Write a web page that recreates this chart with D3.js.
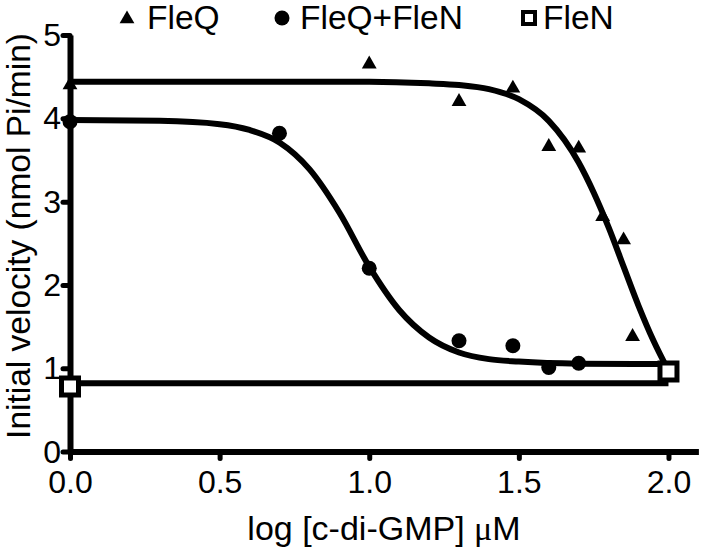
<!DOCTYPE html>
<html>
<head>
<meta charset="utf-8">
<script src="https://cdn.jsdelivr.net/npm/d3@7"></script>
<style>
  body { margin: 0; background: #fff; }
  svg { display: block; font-family: "Liberation Sans", Arial, sans-serif; }
</style>
</head>
<body>
<div id="chart"></div>
<script>
// measured points
const fleqX = [0, 1.0, 1.3, 1.48, 1.6, 1.7, 1.78, 1.85, 1.88, 2.0];
const fleqY = [4.4, 4.65, 4.2, 4.36, 3.66, 3.64, 2.82, 2.54, 1.38, 0.97];
const mixX = [0, 0.7, 1.0, 1.3, 1.48, 1.6, 1.7, 2.0];
const mixY = [3.96, 3.82, 2.2, 1.33, 1.27, 1.01, 1.06, 0.95];
const flenX = [0, 2.0];
const flenY = [0.78, 0.96];

// fitted curves
const fitFleqX = [0, 1.0, 1.2, 1.3, 1.4, 1.5, 1.6, 1.7, 1.75, 1.8, 1.85, 1.9, 1.95, 2.0];
const fitFleqY = [4.44, 4.44, 4.42, 4.40, 4.35, 4.23, 3.97, 3.47, 3.11, 2.69, 2.22, 1.75, 1.33, 0.97];
const fitMixX = [0, 0.3, 0.5, 0.6, 0.7, 0.8, 0.9, 1.0, 1.1, 1.2, 1.3, 1.4, 1.5, 1.7, 2.0];
const fitMixY = [3.98, 3.97, 3.93, 3.86, 3.71, 3.39, 2.87, 2.22, 1.70, 1.37, 1.19, 1.11, 1.08, 1.055, 1.05];
const fitFlenX = [0, 2.0];
const fitFlenY = [0.82, 0.82];

const xTicks = [0, 0.5, 1.0, 1.5, 2.0];
const yTicks = [0, 1, 2, 3, 4, 5];

const width = 705, height = 549;

const x = d3.scaleLinear().domain([0, 2.1]).range([70, 698.4]);
const y = d3.scaleLinear().domain([0, 5]).range([451.6, 35]);

const svg = d3.select("#chart").append("svg")
    .attr("width", width)
    .attr("height", height);

// axes
const xAxis = svg.append("g")
    .attr("transform", `translate(0,${y(0)})`)
    .call(d3.axisBottom(x).tickValues(xTicks).tickFormat(d3.format(".1f")).tickSize(7).tickSizeOuter(0));
xAxis.select(".domain").attr("stroke-width", 6);
xAxis.selectAll(".tick line").attr("stroke-width", 5).attr("stroke-linecap", "round");
xAxis.selectAll(".tick text")
    .attr("y", 41).attr("dy", 0)
    .attr("font-size", 32).attr("fill", "#000");

const yAxis = svg.append("g")
    .attr("transform", `translate(${x(0)},0)`)
    .call(d3.axisLeft(y).tickValues(yTicks).tickFormat(d3.format("d")).tickSize(7).tickSizeOuter(0));
yAxis.select(".domain").attr("stroke-width", 6);
yAxis.selectAll(".tick line").attr("stroke-width", 5).attr("stroke-linecap", "round");
yAxis.selectAll(".tick text")
    .attr("x", -9).attr("dy", "0.33em")
    .attr("font-size", 32).attr("fill", "#000");

// axis titles
const xl = svg.append("text")
    .attr("x", 384).attr("y", 540)
    .attr("text-anchor", "middle")
    .attr("font-size", 34);
xl.append("tspan").text("log [c-di-GMP] ");
xl.append("tspan").attr("font-family", "'Liberation Serif', serif").text("μ");
xl.append("tspan").text("M");

svg.append("text")
    .attr("transform", "translate(30,236) rotate(-90)")
    .attr("text-anchor", "middle")
    .attr("font-size", 33.5)
    .text("Initial velocity (nmol Pi/min)");

// fit lines
const line = d3.line().x(d => x(d[0])).y(d => y(d[1])).curve(d3.curveMonotoneX);
[[fitFleqX, fitFleqY], [fitMixX, fitMixY], [fitFlenX, fitFlenY]].forEach(([xs, ys]) => {
  svg.append("path")
      .datum(d3.zip(xs, ys))
      .attr("d", line)
      .attr("fill", "none")
      .attr("stroke", "#000")
      .attr("stroke-width", 6);
});

// markers
svg.append("g").selectAll("path")
    .data(d3.zip(fleqX, fleqY))
    .join("path")
    .attr("transform", d => `translate(${x(d[0])},${y(d[1])})`)
    .attr("d", d3.symbol(d3.symbolTriangle, 95));

svg.append("g").selectAll("circle")
    .data(d3.zip(mixX, mixY))
    .join("circle")
    .attr("cx", d => x(d[0]))
    .attr("cy", d => y(d[1]))
    .attr("r", 7.5);

svg.append("g").selectAll("path")
    .data(d3.zip(flenX, flenY))
    .join("path")
    .attr("transform", d => `translate(${x(d[0])},${y(d[1])})`)
    .attr("d", d3.symbol(d3.symbolSquare, 17 * 17))
    .attr("fill", "#fff")
    .attr("stroke", "#000")
    .attr("stroke-width", 5);

// legend
const legend = svg.append("g").attr("font-size", 33.5);
const legendItems = [
  {label: "FleQ", mx: 127, tx: 147, kind: "tri"},
  {label: "FleQ+FleN", mx: 282, tx: 300, kind: "circ"},
  {label: "FleN", mx: 529, tx: 543, kind: "sq"}
];
legendItems.forEach(it => {
  if (it.kind == "tri") {
    legend.append("path").attr("transform", `translate(${it.mx},19)`).attr("d", d3.symbol(d3.symbolTriangle, 95));
  } else if (it.kind == "circ") {
    legend.append("circle").attr("cx", it.mx).attr("cy", 18).attr("r", 7.5);
  } else {
    legend.append("path").attr("transform", `translate(${it.mx},18)`)
        .attr("d", d3.symbol(d3.symbolSquare, 12 * 12))
        .attr("fill", "#fff").attr("stroke", "#000").attr("stroke-width", 4);
  }
  legend.append("text").attr("x", it.tx).attr("y", 29).text(it.label);
});
</script>
</body>
</html>
